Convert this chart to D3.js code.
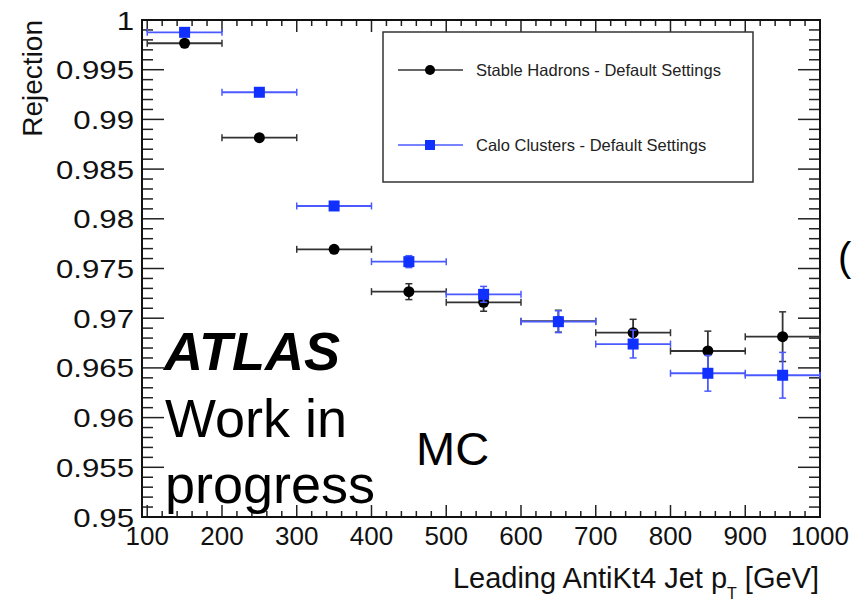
<!DOCTYPE html>
<html><head><meta charset="utf-8">
<script src="https://cdn.jsdelivr.net/npm/d3@7"></script>
<style>
html,body{margin:0;padding:0;background:#fff;}
svg{display:block;font-family:"Liberation Sans",Arial,Helvetica,sans-serif;}
</style></head>
<body>
<svg id="c" width="853" height="604"></svg>
<script>
// ---- data ----
const binLow  = [100,200,300,400,500,600,700,800,900];
const binHigh = [200,300,400,500,600,700,800,900,1000];
const binCenter = [150,250,350,450,550,650,750,850,950];
const hadronsVal = [0.99766,0.98816,0.97693,0.97267,0.97160,0.96970,0.96854,0.96670,0.96814];
const hadronsErr = [0.0002,0.0002,0.0002,0.0008,0.0009,0.0011,0.00135,0.0020,0.0025];
const caloVal    = [0.99876,0.99273,0.98129,0.97569,0.97240,0.96965,0.96740,0.96446,0.96426];
const caloErr    = [0.0002,0.0002,0.0002,0.0006,0.0008,0.0011,0.0014,0.0018,0.0023];
const xTicks = [100,200,300,400,500,600,700,800,900,1000];
const yTicks = [0.95,0.955,0.96,0.965,0.97,0.975,0.98,0.985,0.99,0.995,1];
const yTickLabels = ["0.95","0.955","0.96","0.965","0.97","0.975","0.98","0.985","0.99","0.995","1"];
const seriesNames = ["Stable Hadrons - Default Settings","Calo Clusters - Default Settings"];

const svg = d3.select("#c");
const L=142, R=820, T=20, B=517;
const x = d3.scaleLinear().domain([93,1000]).range([L,R]);
const y = d3.scaleLinear().domain([0.95,1]).range([B,T]);

const tickCol="#222";
// minor ticks
const xMinor = d3.range(100,1000.1,20);
const yMinor = d3.range(0,51).map(i=>0.95+i*0.001);

// x ticks bottom & top
const gt = svg.append("g").attr("stroke",tickCol).attr("stroke-width",1.5);
xMinor.forEach(v=>{
  const major = xTicks.some(t=>Math.abs(t-v)<1e-6);
  const len = major?12:6;
  gt.append("line").attr("x1",x(v)).attr("x2",x(v)).attr("y1",B).attr("y2",B-len);
  gt.append("line").attr("x1",x(v)).attr("x2",x(v)).attr("y1",T).attr("y2",T+len);
});
yMinor.forEach(v=>{
  const major = yTicks.some(t=>Math.abs(t-v)<1e-7);
  const len = major?22:11;
  gt.append("line").attr("x1",L).attr("x2",L+len).attr("y1",y(v)).attr("y2",y(v));
  gt.append("line").attr("x1",R).attr("x2",R-len).attr("y1",y(v)).attr("y2",y(v));
});

// frame
svg.append("rect").attr("x",L).attr("y",T).attr("width",R-L).attr("height",B-T)
  .attr("fill","none").attr("stroke","#111").attr("stroke-width",2);

// tick labels
xTicks.forEach(v=>{
  svg.append("text").attr("x",x(v)).attr("y",545).attr("text-anchor","middle")
    .attr("font-size",26).attr("fill","#111").text(v);
});
yTicks.forEach((v,i)=>{
  svg.append("text").attr("transform",`translate(134,${y(v)+9.5}) scale(1.2,1)`)
    .attr("text-anchor","end").attr("font-size",26).attr("fill","#111").text(yTickLabels[i]);
});

// axis titles
svg.append("text").attr("transform","translate(42,20) rotate(-90)").attr("text-anchor","end")
  .attr("font-size",28).attr("fill","#111").text("Rejection");
const xt = svg.append("text").attr("x",819).attr("y",588).attr("text-anchor","end")
  .attr("font-size",29).attr("fill","#111");
xt.append("tspan").text("Leading AntiKt4 Jet p");
xt.append("tspan").attr("font-size",16).attr("dy",11).text("T");
xt.append("tspan").attr("dy",-11).text(" [GeV]");

// data series
function drawSeries(vals, errs, lineCol, markCol, shape){
  const g = svg.append("g");
  vals.forEach((v,i)=>{
    const cx=x(binCenter[i]), cy=y(v);
    const x0=x(binLow[i]), x1=x(binHigh[i]);
    const yt=y(v+errs[i]), yb=y(v-errs[i]);
    g.append("line").attr("x1",x0).attr("x2",x1).attr("y1",cy).attr("y2",cy)
      .attr("stroke",lineCol).attr("stroke-width",1.8);
    [x0,x1].forEach(xx=>g.append("line").attr("x1",xx).attr("x2",xx).attr("y1",cy-3.5).attr("y2",cy+3.5)
      .attr("stroke",lineCol).attr("stroke-width",1.5));
    g.append("line").attr("x1",cx).attr("x2",cx).attr("y1",yt).attr("y2",yb)
      .attr("stroke",lineCol).attr("stroke-width",1.8);
    [yt,yb].forEach(yy=>g.append("line").attr("x1",cx-3.5).attr("x2",cx+3.5).attr("y1",yy).attr("y2",yy)
      .attr("stroke",lineCol).attr("stroke-width",1.5));
    if(shape==="circle") g.append("circle").attr("cx",cx).attr("cy",cy).attr("r",5.5).attr("fill",markCol);
    else g.append("rect").attr("x",cx-5.5).attr("y",cy-5.5).attr("width",11).attr("height",11).attr("fill",markCol);
  });
}
drawSeries(hadronsVal, hadronsErr, "#333", "#000", "circle");
drawSeries(caloVal, caloErr, "#4a5aff", "#1030ff", "square");

// legend
const lg = svg.append("g");
lg.append("rect").attr("x",383).attr("y",32).attr("width",370).attr("height",150)
  .attr("fill","#fff").attr("stroke","#333").attr("stroke-width",1.5);
const legY=[70,145], legLine=["#333","#4a5aff"], legMark=["#000","#1030ff"];
seriesNames.forEach((n,i)=>{
  lg.append("line").attr("x1",398).attr("x2",463).attr("y1",legY[i]).attr("y2",legY[i])
    .attr("stroke",legLine[i]).attr("stroke-width",1.5);
  if(i===0) lg.append("circle").attr("cx",430).attr("cy",legY[i]).attr("r",5).attr("fill",legMark[i]);
  else lg.append("rect").attr("x",425).attr("y",legY[i]-5).attr("width",10).attr("height",10).attr("fill",legMark[i]);
  lg.append("text").attr("x",476).attr("y",legY[i]+6).attr("font-size",16.5).attr("fill","#222").text(n);
});

// ATLAS labels
svg.append("text").attr("x",164).attr("y",370).attr("font-size",54).attr("font-weight","bold")
  .attr("font-style","italic").attr("fill","#000").text("ATLAS");
svg.append("text").attr("x",165).attr("y",437).attr("font-size",54).attr("fill","#000").text("Work in");
svg.append("text").attr("x",165).attr("y",503).attr("font-size",54).attr("fill","#000").text("progress");
svg.append("text").attr("x",416).attr("y",465).attr("font-size",47).attr("fill","#000").text("MC");
svg.append("text").attr("x",838).attr("y",271).attr("font-size",40).attr("fill","#000").text("(");
</script>
</body></html>
